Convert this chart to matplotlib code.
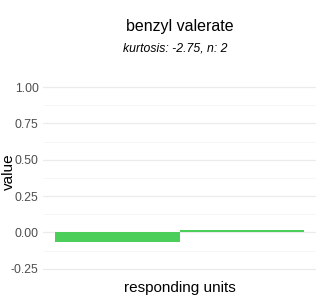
import matplotlib
matplotlib.use("Agg")
import matplotlib.pyplot as plt

# ------- data -------
units = ["unit 1", "unit 2"]
values = [-0.068, 0.015]
yticks = [-0.25, 0.0, 0.25, 0.50, 0.75, 1.00]
ytick_labels = ["-0.25", "0.00", "0.25", "0.50", "0.75", "1.00"]
title = "benzyl valerate"
subtitle = "kurtosis: -2.75, n: 2"

plt.rcParams['font.family'] = ['Liberation Sans', 'DejaVu Sans']

fig = plt.figure(figsize=(3.2, 3.0), dpi=100)
ax = fig.add_axes([0.134, 0.074, 0.854, 0.666])
ax.set_axisbelow(True)

pos = list(range(len(units)))
ax.bar(pos, values, width=1.0, color="#4ccf5a", linewidth=0, zorder=3)

ax.set_xlim(-0.6, len(units) - 0.4)
ax.set_ylim(-0.3125, 1.0625)
ax.set_xticks([])
ax.set_yticks(yticks)
ax.set_yticklabels(ytick_labels)
ax.set_yticks([-0.125, 0.125, 0.375, 0.625, 0.875], minor=True)

# grid setting
ax.grid(True, which='major', axis='y', color='#ebebeb', linewidth=0.9)
ax.grid(True, which='minor', axis='y', color='#f5f5f5', linewidth=0.6)
for s in ax.spines.values():
    s.set_visible(False)
ax.tick_params(axis='y', which='both', length=0, labelsize=8.8,
               labelcolor='#4d4d4d', pad=3)

ax.set_xlabel("responding units", fontsize=11, labelpad=2, color='black')
ax.set_ylabel("value", fontsize=11, color='black')
ax.yaxis.set_label_coords(-0.1, 0.533)

fig.text(0.561, 0.91, title, ha='center', va='center', fontsize=11.5)
fig.text(0.547, 0.837, subtitle, ha='center', va='center', fontsize=8.8,
         style='italic')

fig.savefig("out.png", dpi=100)
